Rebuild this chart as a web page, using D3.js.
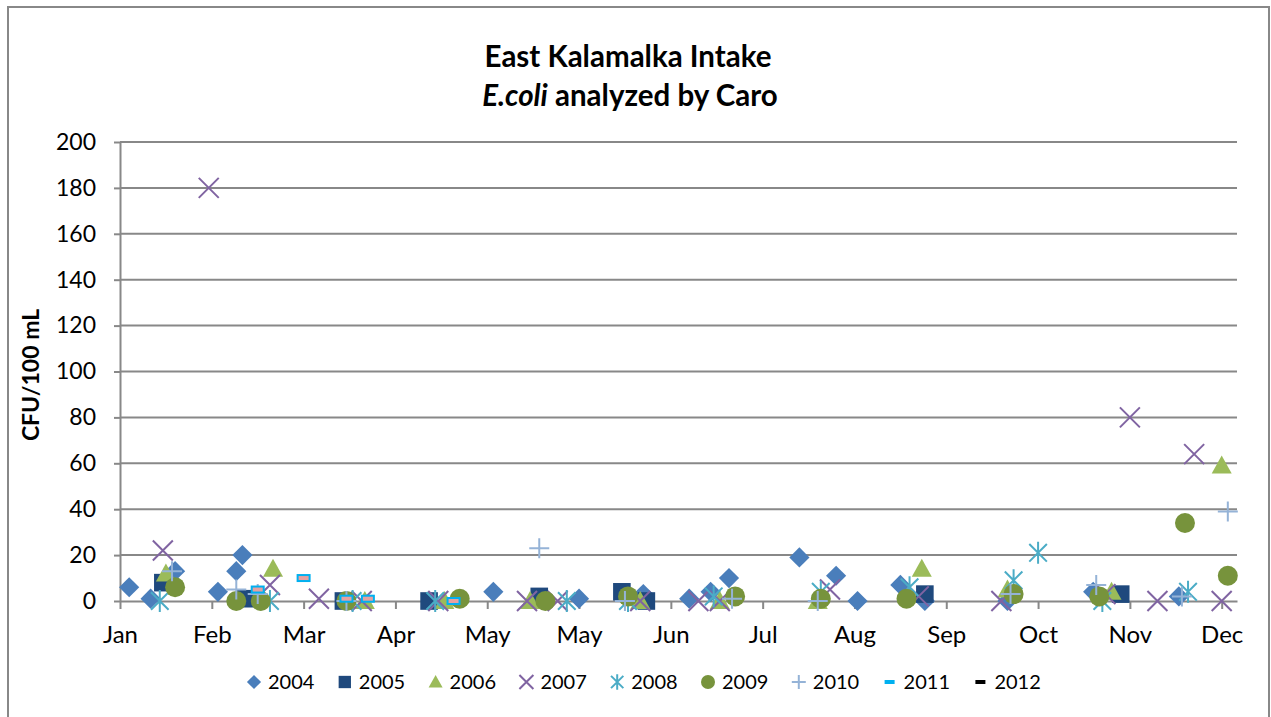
<!DOCTYPE html>
<html>
<head>
<meta charset="utf-8">
<script src="https://cdn.jsdelivr.net/npm/d3@7"></script>
<style>
  body { margin: 0; background: #fff; }
  svg { display: block; font-family: Lato, "Open Sans", sans-serif; }
</style>
</head>
<body>
<svg width="1271" height="717"></svg>
<script>
  // day-of-year (0-365) and CFU/100 mL
  const s2004 = [[3,6],[10,1],[18,13],[32,4],[38,13],[40,20],[122,4],[150,1],[171,3],[186,1],[193,4],[199,10],[222,19],[234,11],[241,0],[255,7],[263,0],[290,0],[318,4],[346,2]];
  const s2005 = [[14,8],[41,1],[73,0],[101,0],[137,2],[164,4],[172,0],[263,3],[327,3]];
  const s2006 = [[15,12],[50,14],[80,0],[106,0],[134,0],[170,0],[196,0],[228,0],[262,14],[290,5],[324,4],[360,59]];
  const s2007 = [[14,22],[29,180],[49,7],[65,1],[79,0],[104,0],[133,0],[143,0],[170,0],[189,0],[196,0],[232,5],[261,2],[288,0],[322,3],[330,80],[339,0],[351,64],[360,0]];
  const s2008 = [[13,0],[49,0],[76,0],[103,0],[146,0],[166,0],[194,2],[229,4],[258,6],[292,9],[300,21],[321,0],[349,4]];
  const s2009 = [[18,6],[38,0],[46,0],[74,0],[111,1],[139,0],[166,2],[201,2],[229,1],[257,1],[292,3],[320,2],[348,34],[362,11]];
  const s2010 = [[17,13],[38,5],[45,3],[74,0],[137,23],[165,0],[200,1],[228,0],[291,3],[319,7],[347,2],[362,39]];
  const s2011 = [[45,5],[60,10],[74,1],[81,1],[109,0]];
  const s2012 = [];

  const years = ["2004","2005","2006","2007","2008","2009","2010","2011","2012"];
  const seriesData = [s2004, s2005, s2006, s2007, s2008, s2009, s2010, s2011, s2012];
  const colors = ["#4A7EBB","#1F497D","#9BBB59","#8064A2","#4BACC6","#77933C","#95B3D7","#00B0F0","#000000"];
  const shapes = ["diamond","square","triangle","x","star","circle","plus","dash","dash"];

  const xTickDays = [0,30,60,90,120,150,180,210,240,270,300,330,360];
  const xTickLabels = ["Jan","Feb","Mar","Apr","May","May","Jun","Jul","Aug","Sep","Oct","Nov","Dec"];
  const yTicks = [0,20,40,60,80,100,120,140,160,180,200];

  const svg = d3.select("svg");
  const grey = "#888888";

  // outer chart border
  svg.append("rect")
    .attr("x", 8).attr("y", 7).attr("width", 1261).attr("height", 720)
    .attr("fill", "none").attr("stroke", grey).attr("stroke-width", 2);

  const x = d3.scaleLinear().domain([0, 365]).range([120, 1237]);
  const y = d3.scaleLinear().domain([0, 200]).range([601, 142]);

  // gridlines
  svg.append("g").selectAll("line")
    .data(yTicks.slice(1))
    .enter().append("line")
    .attr("x1", x(0)).attr("x2", x(365))
    .attr("y1", d => y(d)).attr("y2", d => y(d))
    .attr("stroke", grey).attr("stroke-width", 2);

  const yAxis = svg.append("g")
    .attr("transform", `translate(${x(0)},0)`)
    .call(d3.axisLeft(y).tickValues(yTicks).tickSizeInner(6).tickSizeOuter(0).tickPadding(18));
  yAxis.select(".domain").attr("stroke", grey).attr("stroke-width", 2);
  yAxis.selectAll(".tick line").attr("stroke", grey).attr("stroke-width", 2);
  yAxis.selectAll("text").attr("font-size", 23).attr("fill", "#000").style("font-family", "Lato");

  const xAxis = svg.append("g")
    .attr("transform", `translate(0,${y(0)})`)
    .call(d3.axisBottom(x).tickValues(xTickDays).tickFormat((d, i) => xTickLabels[i])
      .tickSizeInner(8).tickSizeOuter(0).tickPadding(17));
  xAxis.select(".domain").attr("stroke", grey).attr("stroke-width", 2);
  xAxis.selectAll(".tick line").attr("stroke", grey).attr("stroke-width", 2);
  xAxis.selectAll("text").attr("font-size", 24).attr("fill", "#000").style("font-family", "Lato");

  // marker drawing
  function marker(g, shape, color, s) {
    if (shape === "diamond") {
      g.append("path").attr("d", d3.symbol(d3.symbolDiamond2, s * s * 2.6)()).attr("fill", color);
    } else if (shape === "square") {
      g.append("rect").attr("x", -s * 0.88).attr("y", -s * 0.88).attr("width", s * 1.76).attr("height", s * 1.76).attr("fill", color);
    } else if (shape === "triangle") {
      g.append("path").attr("d", `M0,${-s}L${s},${s * 0.8}L${-s},${s * 0.8}Z`).attr("fill", color);
    } else if (shape === "circle") {
      g.append("circle").attr("r", s).attr("fill", color);
    } else if (shape === "x") {
      g.append("path").attr("d", `M${-s},${-s}L${s},${s}M${-s},${s}L${s},${-s}`)
        .attr("stroke", color).attr("stroke-width", 2).attr("fill", "none");
    } else if (shape === "star") {
      const r = s * 1.1, k = r * 0.8;
      g.append("path").attr("d", `M${-k},${-k}L${k},${k}M${-k},${k}L${k},${-k}M0,${-r}L0,${r}`)
        .attr("stroke", color).attr("stroke-width", 2).attr("fill", "none");
    } else if (shape === "plus") {
      g.append("path").attr("d", `M${-s},0L${s},0M0,${-s}L0,${s}`)
        .attr("stroke", color).attr("stroke-width", 2).attr("fill", "none");
    } else if (shape === "dash") {
      g.append("rect").attr("x", -s * 0.6).attr("y", -s * 0.3).attr("width", s * 1.2).attr("height", s * 0.6)
        .attr("fill", color === "#000000" ? color : "#E6A1A1").attr("stroke", color).attr("stroke-width", 2);
    }
  }

  seriesData.forEach((data, i) => {
    svg.append("g").selectAll("g")
      .data(data)
      .enter().append("g")
      .attr("transform", d => `translate(${x(d[0])},${y(d[1])})`)
      .each(function () { marker(d3.select(this), shapes[i], colors[i], 10); });
  });

  // legend
  const legend = svg.append("g");
  years.forEach((yr, i) => {
    const lx = 254 + i * 90.8;
    const g = legend.append("g").attr("transform", `translate(${lx},682)`);
    const lg = g.append("g");
    if (shapes[i] === "dash") {
      lg.append("rect").attr("x", -5).attr("y", -2).attr("width", 10).attr("height", 4).attr("fill", colors[i]);
    } else {
      marker(lg, shapes[i], colors[i], 7);
    }
    g.append("text").attr("x", 14).attr("y", 0).attr("dy", "0.35em")
      .attr("font-size", 20).text(yr);
  });

  // title
  svg.append("text").attr("x", 628).attr("y", 67).attr("text-anchor", "middle")
    .attr("font-size", 29.5).attr("font-weight", "bold").text("East Kalamalka Intake");
  const t2 = svg.append("text").attr("x", 630).attr("y", 106).attr("text-anchor", "middle")
    .attr("font-size", 29.5).attr("font-weight", "bold");
  t2.append("tspan").attr("font-style", "italic").text("E.coli");
  t2.append("tspan").text(" analyzed by Caro");

  // y axis title
  svg.append("text")
    .attr("transform", "translate(39,375) rotate(-90)")
    .attr("text-anchor", "middle").attr("font-size", 23).attr("font-weight", "bold")
    .text("CFU/100 mL");
</script>
</body>
</html>
